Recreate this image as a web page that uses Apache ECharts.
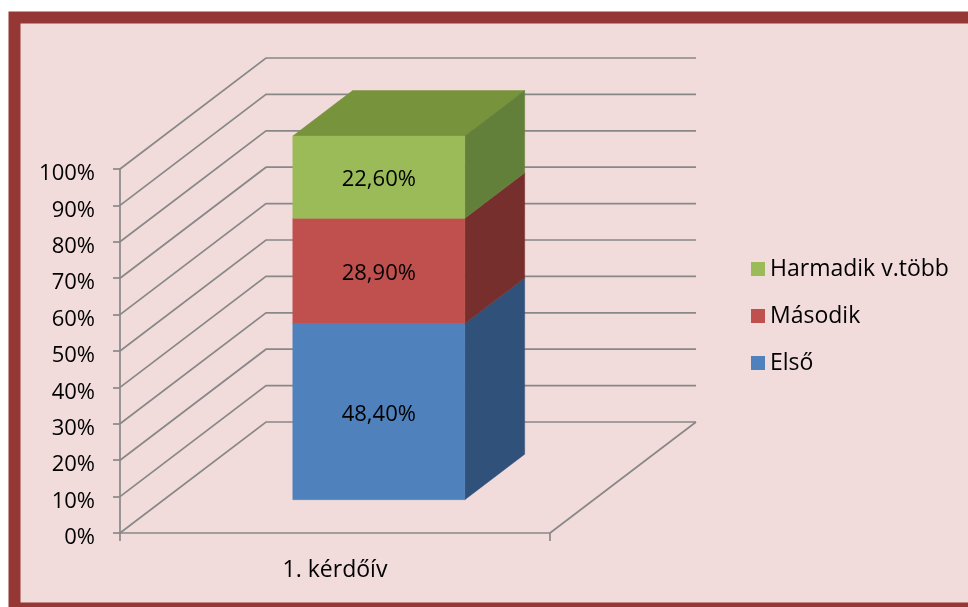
<!DOCTYPE html>
<html>
<head>
<meta charset="utf-8">
<script src="https://cdn.jsdelivr.net/npm/echarts@6/dist/echarts.min.js"></script>
<style>
html,body{margin:0;padding:0;background:#ffffff;}
#chart{width:968px;height:607px;}
</style>
</head>
<body>
<div id="chart"></div>
<script>
// ---- data ----
const categories = ['1. kérdőív'];
const seriesNames = ['Első', 'Második', 'Harmadik v.több'];
const elsoValues = [48.4];
const masodikValues = [28.9];
const harmadikValues = [22.6];
const valueLabels = ['48,40%', '28,90%', '22,60%'];
const yTicks = [0, 10, 20, 30, 40, 50, 60, 70, 80, 90, 100];

// ---- style ----
const FONT = '"Open Sans", Lato, sans-serif';
const DX = 146, DY = -111;        // wall depth offset
const F1 = 0.3, F2 = 0.71;        // bar front/back depth fractions
const GRID_COLOR = '#888888';
const frontColors = ['#4f81bd', '#c0504d', '#9bbb59'];
const sideColors = ['#30527a', '#772f2e', '#63803a'];
const topColors = ['#39608f', '#933c3a', '#77933c'];

const seriesValues = [elsoValues, masodikValues, harmadikValues];
const stackBases = categories.map(() => 0);

function makeBarSeries(idx) {
  const vals = seriesValues[idx];
  const data = vals.map((v, i) => {
    const lo = stackBases[i];
    stackBases[i] += v;
    return [i, lo, lo + v];
  });
  const isTop = idx === seriesValues.length - 1;
  return {
    type: 'custom',
    name: seriesNames[idx],
    itemStyle: { color: frontColors[idx] },
    z: 5 + idx,
    data: data,
    renderItem: function (params, api) {
      const cat = api.value(0), lo = api.value(1), hi = api.value(2);
      const pLo = api.coord([cat, lo]);
      const pHi = api.coord([cat, hi]);
      const bw = api.size([1, 0])[0] * 0.4;
      const x0 = pLo[0] - bw / 2 + DX * F1;
      const x1 = x0 + bw;
      const yLo = pLo[1] + DY * F1;
      const yHi = pHi[1] + DY * F1;
      const ddx = DX * (F2 - F1), ddy = DY * (F2 - F1);
      const children = [
        {
          type: 'polygon',
          shape: { points: [[x1, yLo], [x1, yHi], [x1 + ddx, yHi + ddy], [x1 + ddx, yLo + ddy]] },
          style: { fill: sideColors[idx], stroke: sideColors[idx], lineWidth: 0.5 }
        },
        {
          type: 'rect',
          shape: { x: x0, y: yHi, width: bw, height: yLo - yHi },
          style: { fill: frontColors[idx], stroke: frontColors[idx], lineWidth: 0.5 }
        },
        {
          type: 'text',
          style: {
            x: (x0 + x1) / 2, y: (yLo + yHi) / 2 + 3,
            text: valueLabels[idx],
            align: 'center', verticalAlign: 'middle',
            fill: '#000000', fontSize: 22, fontFamily: FONT
          }
        }
      ];
      if (isTop) {
        children.unshift({
          type: 'polygon',
          shape: { points: [[x0, yHi], [x1, yHi], [x1 + ddx, yHi + ddy], [x0 + ddx, yHi + ddy]] },
          style: { fill: topColors[idx], stroke: topColors[idx], lineWidth: 0.5 }
        });
      }
      return { type: 'group', children: children };
    }
  };
}

const gridSeries = {
  type: 'custom',
  name: '_grid',
  silent: true,
  z: 1,
  data: yTicks.map(v => [0, v]),
  renderItem: function (params, api) {
    const v = api.value(1);
    const p = api.coord([0, v]);
    const cs = params.coordSys;
    const left = cs.x, right = cs.x + cs.width, y = p[1];
    const children = [{
      type: 'polyline',
      shape: { points: [[left, y], [left + DX, y + DY], [right + DX, y + DY]] },
      style: { stroke: GRID_COLOR, lineWidth: 1.7, fill: null }
    }];
    if (v === yTicks[0]) {
      children.push({
        type: 'line',
        shape: { x1: right, y1: y, x2: right + DX, y2: y + DY },
        style: { stroke: GRID_COLOR, lineWidth: 1.7 }
      });
    }
    return { type: 'group', children: children };
  }
};

const chart = echarts.init(document.getElementById('chart'), null, { renderer: 'canvas' });
chart.setOption({
  animation: false,
  backgroundColor: '#ffffff',
  textStyle: { fontFamily: FONT },
  graphic: [{
    type: 'rect',
    z: -10,
    shape: { x: 14.5, y: 17.5, width: 980, height: 591 },
    style: { fill: '#f2dcdb', stroke: '#953735', lineWidth: 12 }
  }],
  grid: { left: 120, right: 418, top: 169, bottom: 74 },
  xAxis: {
    type: 'category',
    data: categories,
    axisLine: { show: true, lineStyle: { color: GRID_COLOR, width: 1.7 } },
    axisTick: { show: true, length: 8, lineStyle: { color: GRID_COLOR, width: 1.7 } },
    axisLabel: { color: '#000000', fontSize: 23, fontFamily: FONT, margin: 26 },
    splitLine: { show: false }
  },
  yAxis: {
    type: 'value',
    min: 0, max: 100, interval: 10,
    axisLine: { show: true, lineStyle: { color: GRID_COLOR, width: 1.7 } },
    axisTick: { show: true, length: 7, lineStyle: { color: GRID_COLOR, width: 1.7 } },
    axisLabel: {
      color: '#000000', fontSize: 22, fontFamily: FONT, margin: 25,
      formatter: '{value}%', verticalAlign: 'top', lineHeight: 10
    },
    splitLine: { show: false }
  },
  legend: {
    data: [seriesNames[2], seriesNames[1], seriesNames[0]],
    orient: 'vertical',
    left: 746, top: 252,
    icon: 'rect',
    itemWidth: 14, itemHeight: 14,
    itemGap: 23,
    selectedMode: false,
    textStyle: { color: '#000000', fontSize: 23, fontFamily: FONT, lineHeight: 24 }
  },
  series: [gridSeries, makeBarSeries(0), makeBarSeries(1), makeBarSeries(2)]
});
</script>
</body>
</html>
